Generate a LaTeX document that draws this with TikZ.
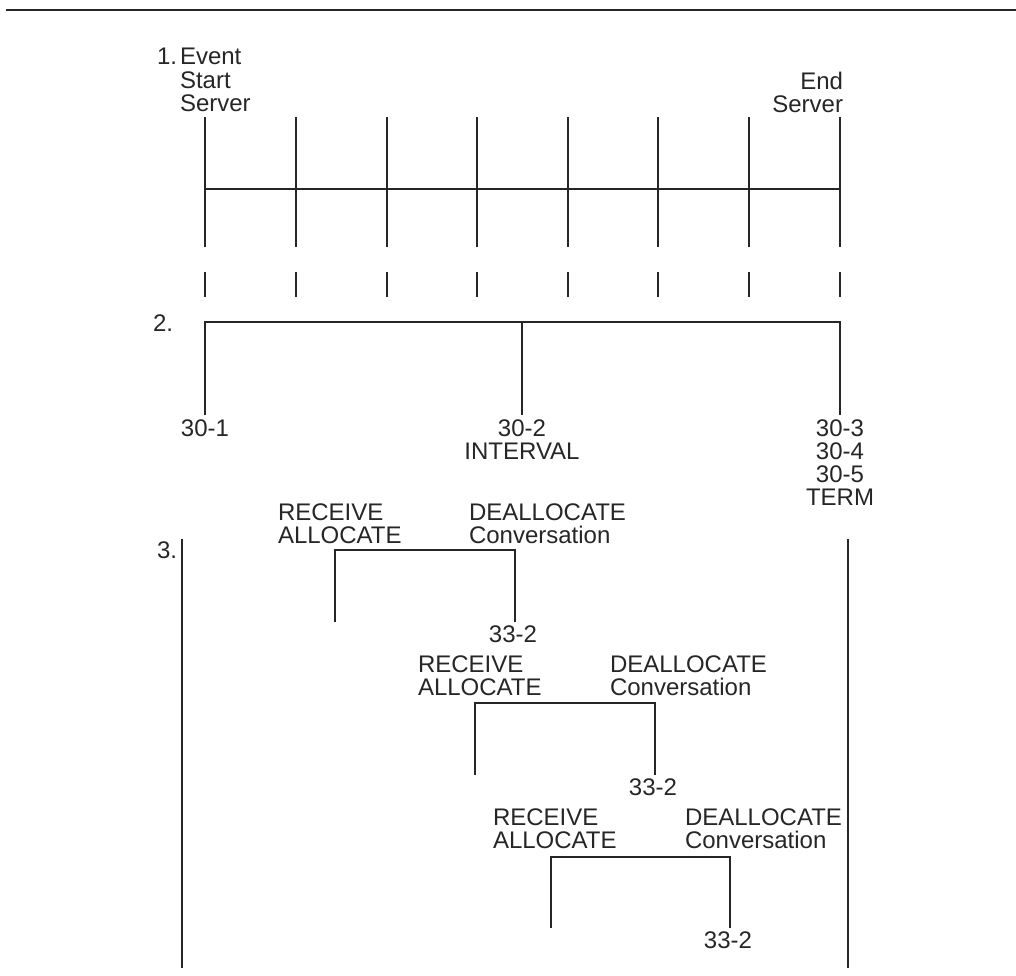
\documentclass[tikz,border=0pt]{standalone}
\usepackage{fontspec}
\setmainfont{Liberation Sans}
\usetikzlibrary{positioning,calc}

\tikzset{
	lbl/.style={inner sep=0pt, outer sep=0pt, text=black!85, font=\fontsize{24}{23.2}\selectfont},
	ln/.style={line width=1.3pt, draw=black!85}
}

\begin{document}
\begin{tikzpicture}[x=1pt,y=-1pt]
	\useasboundingbox (0,0) rectangle (1016,975);

	% top rule
	\coordinate (ruleL) at (6,10);
	\coordinate (ruleR) at (1016,10);
	\draw[line width=1.8pt, draw=black!85] (ruleL) -- (ruleR);

	% 1. event lines and ticks
	\foreach \i/\x in {1/205,2/296,3/387,4/477,5/568,6/658,7/749,8/840}{
		\coordinate (top\i) at (\x,117);
		\coordinate (mid\i) at (\x,189);
		\coordinate (bot\i) at (\x,247);
		\coordinate (tka\i) at (\x,272);
		\coordinate (tkb\i) at (\x,297);
		\draw[ln] (top\i) -- (bot\i);
		\draw[ln] (tka\i) -- (tkb\i);
	}
	\draw[ln] (mid1) -- (mid8);

	\node[lbl, anchor=north west] (one) at (157,48.4) {1.};
	\node[lbl, anchor=north west, align=left] (start) at (180,48.4) {Event\\Start\\Server};
	\node[lbl, anchor=north east, align=right] (end) at (843,72.4) {End\\Server};

	% 2. intervals
	\coordinate (iL) at (205,322);
	\coordinate (iM) at (522,322);
	\coordinate (iR) at (840,322);
	\coordinate (iLb) at (205,415);
	\coordinate (iMb) at (522,415);
	\coordinate (iRb) at (840,415);
	\draw[ln] (iLb) -- (iL) -- (iR) -- (iRb);
	\draw[ln] (iM) -- (iMb);

	\node[lbl, anchor=north west] (two) at (153,314.4) {2.};
	\node[lbl, below=4.4pt of iLb] (r301) {30-1};
	\node[lbl, below=4.4pt of iMb, align=center] (r302) {30-2\\INTERVAL};
	\node[lbl, below=4.4pt of iRb, align=center] (r303) {30-3\\30-4\\30-5\\TERM};

	% 3. conversations
	\coordinate (sL) at (182,539);
	\coordinate (sLb) at (182,968);
	\coordinate (sR) at (848,539);
	\coordinate (sRb) at (848,968);
	\draw[ln] (sL) -- (sLb);
	\draw[ln] (sR) -- (sRb);
	\node[lbl, anchor=north west] (three) at (157,541.4) {3.};

	\coordinate (c1a) at (335,550);
	\coordinate (c1b) at (515,550);
	\coordinate (c1c) at (335,622);
	\coordinate (c1d) at (515,622);
	\draw[ln] (c1c) -- (c1a) -- (c1b) -- (c1d);
	\node[lbl, anchor=south west, align=left] (rcv1) at ($(c1a)+(-57,-6.4)$) {RECEIVE\\ALLOCATE};
	\node[lbl, anchor=south west, align=left] (dea1) at ($(c1b)+(-46,-6.4)$) {DEALLOCATE\\Conversation};
	\node[lbl, below=3.6pt of c1d, xshift=-2pt] (cv1) {33-2};

	\coordinate (c2a) at (475,703);
	\coordinate (c2b) at (655,703);
	\coordinate (c2c) at (475,775);
	\coordinate (c2d) at (655,775);
	\draw[ln] (c2c) -- (c2a) -- (c2b) -- (c2d);
	\node[lbl, anchor=south west, align=left] (rcv2) at ($(c2a)+(-57,-7.4)$) {RECEIVE\\ALLOCATE};
	\node[lbl, anchor=south west, align=left] (dea2) at ($(c2b)+(-45,-7.4)$) {DEALLOCATE\\Conversation};
	\node[lbl, below=3.6pt of c2d, xshift=-2pt] (cv2) {33-2};

	\coordinate (c3a) at (551,857);
	\coordinate (c3b) at (730,857);
	\coordinate (c3c) at (551,928);
	\coordinate (c3d) at (730,928);
	\draw[ln] (c3c) -- (c3a) -- (c3b) -- (c3d);
	\node[lbl, anchor=south west, align=left] (rcv3) at ($(c3a)+(-58,-8.4)$) {RECEIVE\\ALLOCATE};
	\node[lbl, anchor=south west, align=left] (dea3) at ($(c3b)+(-45,-8.4)$) {DEALLOCATE\\Conversation};
	\node[lbl, below=3.6pt of c3d, xshift=-2pt] (cv3) {33-2};
\end{tikzpicture}
\end{document}
